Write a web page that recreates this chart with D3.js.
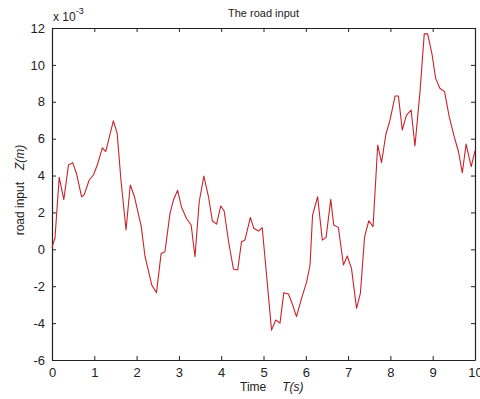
<!DOCTYPE html>
<html lang="en">
    <head>
        <meta charset="utf-8">
        <title>The road input</title>
        <script type="text/javascript" src="https://d3js.org/d3.v7.min.js"></script>
        <style>
            body { margin: 0; background: #fff; }
            text { font-family: "Liberation Sans", Arial, sans-serif; fill: #222; }
            .axis path, .axis line { stroke: #222; }
        </style>
    </head>
    <body>
        <svg width="480" height="399"></svg>

        <script type="text/javascript">

            // time (s) and road input (x 1e-3 m)
            var time = [0, 0.07, 0.17, 0.28, 0.39, 0.49, 0.58, 0.70, 0.76, 0.88, 0.98, 1.07, 1.19, 1.27, 1.45, 1.54,
                1.63, 1.75, 1.85, 1.95, 2.11, 2.20, 2.36, 2.47, 2.58, 2.67, 2.79, 2.87, 2.97, 3.06, 3.18, 3.29,
                3.38, 3.48, 3.59, 3.70, 3.79, 3.89, 3.99, 4.07, 4.18, 4.29, 4.39, 4.48, 4.56, 4.69, 4.77, 4.88,
                4.97, 5.09, 5.19, 5.29, 5.39, 5.48, 5.59, 5.69, 5.78, 5.90, 6.02, 6.10, 6.16, 6.28, 6.39, 6.48,
                6.59, 6.66, 6.77, 6.89, 6.98, 7.08, 7.20, 7.29, 7.39, 7.49, 7.59, 7.70, 7.79, 7.89, 7.99, 8.11,
                8.19, 8.28, 8.38, 8.49, 8.58, 8.70, 8.80, 8.88, 8.98, 9.07, 9.17, 9.28, 9.39, 9.51, 9.61, 9.70,
                9.79, 9.91, 10];
            var input = [0.1, 0.6, 3.9, 2.7, 4.57, 4.7, 4.1, 2.85, 2.95, 3.76, 4.03, 4.57, 5.5, 5.3, 6.97, 6.3,
                3.76, 1.05, 3.49, 2.85, 1.23, -0.4, -1.94, -2.35, -0.22, -0.13, 1.95, 2.67, 3.2, 2.3, 1.67, 1.32,
                -0.4, 2.58, 3.97, 2.85, 1.55, 1.37, 2.35, 2.08, 0.33, -1.08, -1.12, 0.41, 0.5, 1.73, 1.14, 0.99,
                1.17, -1.84, -4.38, -3.83, -4.0, -2.35, -2.42, -3.02, -3.65, -2.66, -1.76, -0.85, 1.86, 2.85, 0.5, 0.65,
                2.71, 1.32, 1.19, -0.85, -0.36, -1.03, -3.2, -2.39, 0.68, 1.55, 1.23, 5.66, 4.7, 6.2, 7.0, 8.31,
                8.31, 6.47, 7.28, 7.55, 5.6, 8.55, 11.68, 11.68, 10.63, 9.27, 8.73, 8.55, 7.19, 6.1, 5.29, 4.15,
                5.71, 4.48, 5.35];

            var xTicks = [0, 1, 2, 3, 4, 5, 6, 7, 8, 9, 10];
            var yTicks = [-6, -4, -2, 0, 2, 4, 6, 8, 10, 12];

            var svg = d3.select("svg"),
                plotL = 52, plotR = 475, plotT = 28, plotB = 360;

            var x = d3.scaleLinear().domain([0, 10]).range([plotL, plotR]);
            var y = d3.scaleLinear().domain([-6, 12]).range([plotB, plotT]);

            // plain hyphen for negatives, like the original
            var fmt = function(d) { return String(d); };

            // box with inward ticks on every side
            svg.append("g").attr("class", "axis").attr("transform", "translate(0," + plotB + ")")
                .call(d3.axisBottom(x).tickValues(xTicks).tickFormat(fmt).tickSizeInner(-4).tickSizeOuter(0).tickPadding(8))
                .call(function(g) { g.selectAll("text").style("font-size", "13px"); });
            svg.append("g").attr("class", "axis").attr("transform", "translate(0," + plotT + ")")
                .call(d3.axisTop(x).tickValues(xTicks).tickSizeInner(-4).tickSizeOuter(0).tickFormat(""));
            svg.append("g").attr("class", "axis").attr("transform", "translate(" + plotL + ",0)")
                .call(d3.axisLeft(y).tickValues(yTicks).tickFormat(fmt).tickSizeInner(-4).tickSizeOuter(0).tickPadding(7))
                .call(function(g) { g.selectAll("text").style("font-size", "13px"); });
            svg.append("g").attr("class", "axis").attr("transform", "translate(" + plotR + ",0)")
                .call(d3.axisRight(y).tickValues(yTicks).tickSizeInner(-4).tickSizeOuter(0).tickFormat(""));

            svg.selectAll(".axis path").attr("stroke-width", 1.2);

            var line = d3.line()
                .x(function(d) { return x(d[0]); })
                .y(function(d) { return y(d[1]); });

            svg.append("path")
                .datum(d3.zip(time, input))
                .attr("fill", "none")
                .attr("stroke", "#c8232b")
                .attr("stroke-width", 1.1)
                .attr("stroke-linejoin", "round")
                .attr("d", line);

            // title and labels
            svg.append("text")
                .attr("x", (plotL + plotR) / 2).attr("y", 17)
                .attr("text-anchor", "middle").style("font-size", "11px")
                .text("The road input");

            var exp = svg.append("text").attr("x", 53).attr("y", 21).style("font-size", "12px");
            exp.append("tspan").text("x 10");
            exp.append("tspan").attr("dy", -7).style("font-size", "9px").text("-3");

            var yl = svg.append("text")
                .attr("transform", "translate(24,190) rotate(-90)")
                .attr("text-anchor", "middle").style("font-size", "12px");
            yl.append("tspan").text("road input");
            yl.append("tspan").attr("dx", 12).style("font-style", "italic").text("Z(m)");

            var xl = svg.append("text")
                .attr("x", 240).attr("y", 391).style("font-size", "12px");
            xl.append("tspan").text("Time");
            xl.append("tspan").attr("dx", 16).style("font-style", "italic").text("T(s)");

        </script>
    </body>
</html>
